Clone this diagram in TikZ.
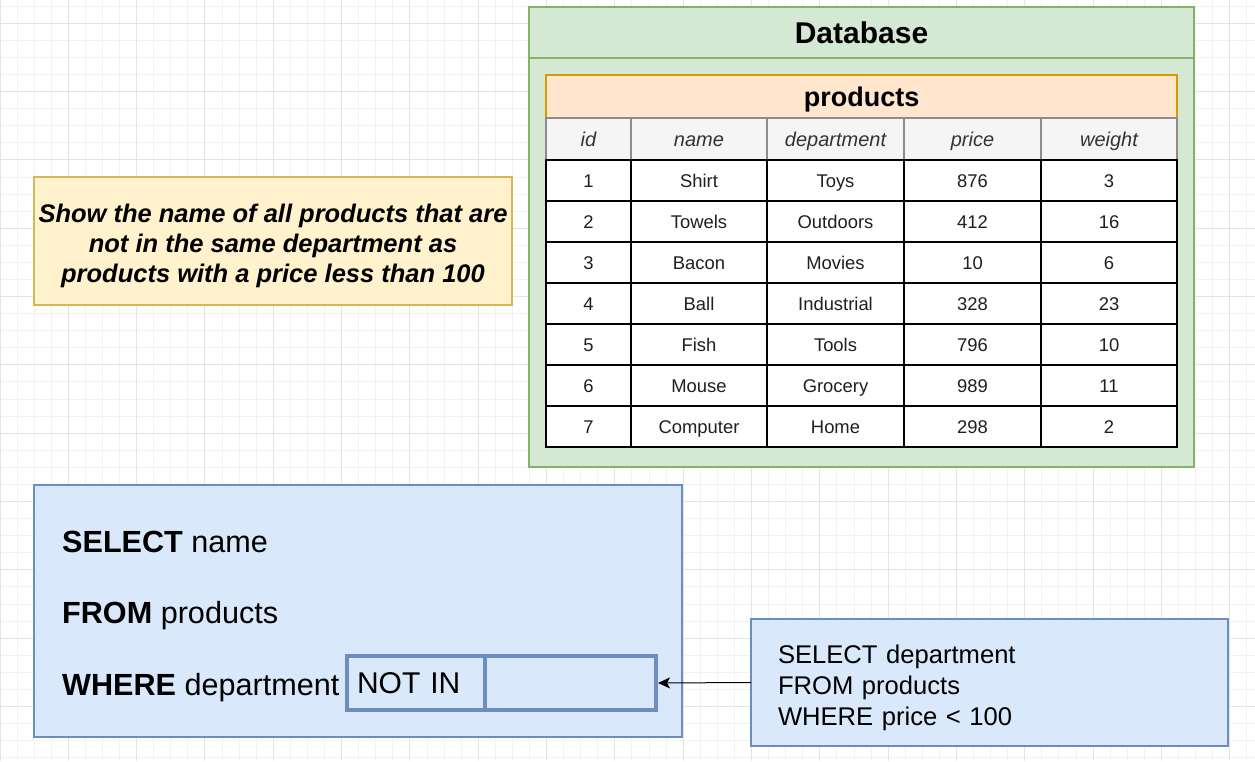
\documentclass[tikz,border=0pt]{standalone}
\usepackage{fontspec}
\setmainfont{Liberation Sans}
\usepackage{tikz}
\usetikzlibrary{arrows.meta,positioning}
\definecolor{gridMinor}{HTML}{F2F2F2}
\definecolor{gridMajor}{HTML}{E4E4E4}
\definecolor{dbFill}{HTML}{D5E8D4}
\definecolor{dbLine}{HTML}{82B366}
\definecolor{tblFill}{HTML}{FFE6CC}
\definecolor{tblLine}{HTML}{D79B00}
\definecolor{noteFill}{HTML}{FFF2CC}
\definecolor{noteLine}{HTML}{D6B656}
\definecolor{sqlFill}{HTML}{DAE8FC}
\definecolor{sqlLine}{HTML}{6C8EBF}
\definecolor{headFill}{HTML}{F5F5F5}

\newcommand{\fs}[2]{\fontsize{#1}{#2}\selectfont}

\begin{document}
\begin{tikzpicture}[
  x=1pt,y=-1pt,
  >={Stealth[length=12pt,width=11pt,inset=3pt]},
  gridmin/.style={gridMinor,line width=1pt},
  gridmaj/.style={gridMajor,line width=1pt},
  box/.style={rectangle,line width=1.5pt,outer sep=0pt,inner sep=0pt},
  dbbox/.style={box,draw=dbLine,fill=dbFill,minimum width=665pt,minimum height=460pt},
  tblhead/.style={box,draw=tblLine,fill=tblFill,minimum width=631pt,minimum height=43pt,
                  text height=19.5pt,text depth=0pt,font=\fs{27}{32}\bfseries},
  hcell/.style={box,draw=black!45,fill=headFill,minimum height=42pt,text=black!80,
                text height=14.5pt,text depth=0pt,font=\fs{20}{24}\itshape},
  dcell/.style={box,draw=black,line width=2pt,fill=white,minimum height=41pt,text=black!88,
                text height=13pt,text depth=0pt,font=\fs{18.4}{22}},
  note/.style={box,draw=noteLine,fill=noteFill,minimum width=478pt,minimum height=128pt,
               text height=82pt,text depth=0pt,align=center,font=\fs{25.5}{30}\bfseries\itshape},
  query/.style={box,draw=sqlLine,fill=sqlFill,minimum width=648pt,minimum height=252pt},
  qline/.style={inner sep=0pt,anchor=base west,font=\fs{30.6}{36}},
  slotbox/.style={box,draw=sqlLine,line width=4pt,minimum height=54pt,font=\fs{30}{36}},
  subq/.style={box,draw=sqlLine,fill=sqlFill,minimum width=477pt,minimum height=127pt,
               text width=423pt,inner xsep=27pt,align=left,text height=19pt,text depth=57.6pt,
               font=\fs{25.6}{31}},
  link/.style={->,black,line width=1pt,shorten >=2pt}
]
\useasboundingbox (0,0) rectangle (1255,761);
\fill[white] (0,0) rectangle (1255,761);

% background grid
\foreach \k in {0,...,73} \draw[gridmin] (\k*17.08,0) -- (\k*17.08,761);
\foreach \k in {0,...,44} \draw[gridmin] (0,6.2+\k*17.08) -- (1255,6.2+\k*17.08);
\foreach \k in {0,...,18} \draw[gridmaj] (\k*68.32,0) -- (\k*68.32,761);
\foreach \k in {0,...,10} \draw[gridmaj] (0,23.3+\k*68.32) -- (1255,23.3+\k*68.32);

% database with the products table
\node[dbbox,anchor=north west] (db) at (529,7) {};
\draw[dbLine,line width=1.5pt] ([yshift=-51pt]db.north west) -- ([yshift=-51pt]db.north east);
\node[font=\fs{30}{36}\bfseries] (dbtitle) at ([yshift=-26pt]db.north) {Database};
\node[tblhead,anchor=north west] (tbl) at (546,75) {products};

\foreach \h/\xl/\w [count=\c] in {id/546/85pt,name/631/136pt,department/767/137pt,
                                  price/904/137pt,weight/1041/136pt}
  \node[hcell,minimum width=\w,anchor=north west] (h\c) at (\xl,118) {\h};

\foreach \cid/\cnm/\cdep/\cpr/\cwt [count=\r] in {1/Shirt/Toys/876/3,2/Towels/Outdoors/412/16,
    3/Bacon/Movies/10/6,4/Ball/Industrial/328/23,5/Fish/Tools/796/10,
    6/Mouse/Grocery/989/11,7/Computer/Home/298/2} {
  \pgfmathsetmacro\yt{160+(\r-1)*41}
  \node[dcell,minimum width=85pt,anchor=north west]  (c\r-1) at (546,\yt)  {\cid};
  \node[dcell,minimum width=136pt,anchor=north west] (c\r-2) at (631,\yt)  {\cnm};
  \node[dcell,minimum width=137pt,anchor=north west] (c\r-3) at (767,\yt)  {\cdep};
  \node[dcell,minimum width=137pt,anchor=north west] (c\r-4) at (904,\yt)  {\cpr};
  \node[dcell,minimum width=136pt,anchor=north west] (c\r-5) at (1041,\yt) {\cwt};
}

% task text
\node[note,anchor=north west] (task) at (34,177)
  {Show the name of all products that are\\not in the same department as\\products with a price less than 100};

% outer query
\node[query,anchor=north west] (main) at (34,485) {};
\node[qline] (sel) at (62,552) {\textbf{SELECT} name};
\node[qline] (frm) at (62,623) {\textbf{FROM} products};
\node[qline] (whr) at (62,695) {\textbf{WHERE} department};
\node[slotbox,anchor=west,text width=118pt,inner xsep=10pt,align=left] (notin) at (347,683) {NOT IN};
\node[slotbox,minimum width=171pt,right=0pt of notin] (slot) {};

% subquery
\node[subq,anchor=north west] (sub) at (751,619)
  {SELECT department\\FROM products\\WHERE price < 100};
\draw[link] (sub.west) -- (slot.east);
\end{tikzpicture}
\end{document}
